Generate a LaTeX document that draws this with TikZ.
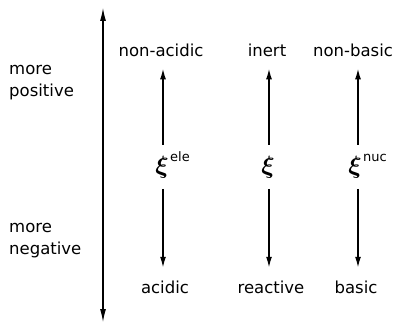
\documentclass[tikz,border=0pt]{standalone}
\usepackage{fontspec}
\setmainfont{DejaVu Sans}
\usetikzlibrary{arrows.meta}
\tikzset{
  lbl/.style={anchor=base, inner sep=0pt, font=\fontsize{16.5}{20}\selectfont},
  side/.style={anchor=base west, inner sep=0pt, font=\fontsize{16.5}{20}\selectfont},
  xinode/.style={anchor=base, inner sep=0pt},
  colarr/.style={line width=1.5pt, -{Latex[length=11pt,width=6pt]}},
  uparr/.style={colarr, shorten >=11pt},
  downarr/.style={colarr, shorten >=12.5pt},
  axisarr/.style={line width=1.1pt, {Latex[length=13pt,width=6pt]}-{Latex[length=13pt,width=6pt]}}
}
\newcommand{\xisym}[1]{{\fontsize{25}{28}\selectfont$\boldsymbol{\xi}$}\rlap{\hspace{1.5pt}\raisebox{12pt}{\fontsize{13}{15}\selectfont #1}}}
\usepackage{amsmath}
\begin{document}
\begin{tikzpicture}[x=1pt,y=-1pt]
\useasboundingbox (0,0) rectangle (396,323);
% axis
\coordinate (atop) at (103,8);
\coordinate (abot) at (103,322);
\draw[axisarr] (atop) -- (abot);
% side labels
\node[side] (mp1) at (9,75) {more};
\node[side] (mp2) at (9,97) {positive};
\node[side] (mn1) at (9,232) {more};
\node[side] (mn2) at (9,254) {negative};
% top labels
\node[lbl] (t1) at (161,57) {non-acidic};
\node[lbl] (t2) at (267,57) {inert};
\node[lbl] (t3) at (353,57) {non-basic};
% bottom labels
\node[lbl] (b1) at (165,293) {acidic};
\node[lbl] (b2) at (271,293) {reactive};
\node[lbl] (b3) at (356,293) {basic};
% xi nodes
\node[xinode] (x1) at (162,174) {\xisym{ele}};
\node[xinode] (x2) at (268,174) {\xisym{}};
\node[xinode] (x3) at (355,174) {\xisym{nuc}};
% column coordinates
\coordinate (u1) at (163,145); \coordinate (d1) at (163,189);
\coordinate (u2) at (269,145); \coordinate (d2) at (269,189);
\coordinate (u3) at (358,145); \coordinate (d3) at (358,189);
\draw[uparr] (u1) -- (u1 |- t1.south);
\draw[uparr] (u2) -- (u2 |- t2.south);
\draw[uparr] (u3) -- (u3 |- t3.south);
\draw[downarr] (d1) -- (d1 |- b1.north);
\draw[downarr] (d2) -- (d2 |- b2.north);
\draw[downarr] (d3) -- (d3 |- b3.north);
\end{tikzpicture}
\end{document}
